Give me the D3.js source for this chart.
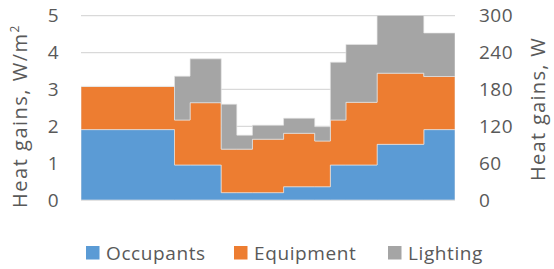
<!DOCTYPE html>
<html>
<head>
<meta charset="utf-8">
<script src="https://cdn.jsdelivr.net/npm/d3@7"></script>
<style>
  body { margin: 0; background: #fff; }
  svg { font-family: "Open Sans", sans-serif; }
</style>
</head>
<body>
<svg width="554" height="269"></svg>
<script>
// hour at which each step starts (last entry closes the day)
var hours = [0, 6, 7, 9, 10, 11, 13, 15, 16, 17, 19, 22, 24];
var occupants = [1.91, 0.95, 0.95, 0.2, 0.2, 0.2, 0.36, 0.36, 0.95, 0.95, 1.51, 1.91];
var equipment = [1.17, 1.22, 1.69, 1.18, 1.18, 1.45, 1.45, 1.24, 1.22, 1.70, 1.93, 1.44];
var lighting = [0, 1.19, 1.19, 1.22, 0.38, 0.38, 0.41, 0.39, 1.57, 1.57, 1.57, 1.18];
var seriesNames = ['Occupants', 'Equipment', 'Lighting'];
var seriesColors = ['#5b9bd5', '#ed7d31', '#a5a5a5'];
var leftTicks = [0, 1, 2, 3, 4, 5];
var rightTicks = [0, 60, 120, 180, 240, 300];

var margin = { left: 81, right: 99, top: 15.7, bottom: 69 };
var width = 554 - margin.left - margin.right;
var height = 269 - margin.top - margin.bottom;

var rows = hours.map(function (h, i) {
  var k = Math.min(i, occupants.length - 1);
  return { hour: h, Occupants: occupants[k], Equipment: equipment[k], Lighting: lighting[k] };
});

var svg = d3.select('svg');
var g = svg.append('g')
  .attr('transform', 'translate(' + margin.left + ',' + margin.top + ')');

var x = d3.scaleLinear().domain([0, 24]).range([0, width]);
var y = d3.scaleLinear().domain([0, 5]).range([height, 0]);
var y2 = d3.scaleLinear().domain([0, 300]).range([height, 0]);

// grid
g.selectAll('.grid')
  .data(leftTicks)
  .enter()
  .append('line')
  .attr('x1', 0)
  .attr('x2', width)
  .attr('y1', function (d) { return y(d); })
  .attr('y2', function (d) { return y(d); })
  .attr('stroke', '#d9d9d9')
  .attr('stroke-width', 1.3);

g.append('clipPath')
  .attr('id', 'plot')
  .append('rect')
  .attr('x', 0)
  .attr('y', 0)
  .attr('width', width)
  .attr('height', height);

var stacked = d3.stack().keys(seriesNames)(rows);

var area = d3.area()
  .curve(d3.curveStepAfter)
  .x(function (d) { return x(d.data.hour); })
  .y0(function (d) { return y(d[0]); })
  .y1(function (d) { return y(d[1]); });

g.append('g')
  .attr('clip-path', 'url(#plot)')
  .selectAll('path')
  .data(stacked)
  .enter()
  .append('path')
  .attr('d', area)
  .attr('fill', function (d, i) { return seriesColors[i]; })
  .attr('stroke', '#e6e6e6')
  .attr('stroke-opacity', 0.8)
  .attr('stroke-width', 0.8);

// axes
var leftAxis = d3.axisLeft(y).tickValues(leftTicks).tickFormat(d3.format('d')).tickSize(0).tickPadding(22);
var rightAxis = d3.axisRight(y2).tickValues(rightTicks).tickFormat(d3.format('d')).tickSize(0).tickPadding(24);

function styleAxis(sel) {
  sel.select('.domain').remove();
  sel.selectAll('text')
    .attr('fill', '#595959')
    .style('font-size', '19px')
    .style('letter-spacing', '0.5px')
    .style('font-family', '"Open Sans", sans-serif');
}

g.append('g').call(leftAxis).call(styleAxis);
g.append('g').attr('transform', 'translate(' + width + ',0)').call(rightAxis).call(styleAxis);

// axis titles
var leftTitle = svg.append('text')
  .attr('transform', 'translate(26.5,' + 116 + ') rotate(-90)')
  .attr('text-anchor', 'middle')
  .attr('fill', '#595959')
  .style('font-size', '20px')
  .style('letter-spacing', '1.5px');
leftTitle.append('tspan').text('Heat gains, W/m');
leftTitle.append('tspan').attr('dy', -8).style('font-size', '12px').text('2');

svg.append('text')
  .attr('transform', 'translate(545,' + 109 + ') rotate(-90)')
  .attr('text-anchor', 'middle')
  .attr('fill', '#595959')
  .style('font-size', '20px')
  .style('letter-spacing', '1.3px')
  .text('Heat gains, W');

// legend
var legendX = [86, 234, 388];
var legend = svg.selectAll('.legend')
  .data(seriesNames)
  .enter()
  .append('g')
  .attr('transform', function (d, i) { return 'translate(' + legendX[i] + ',246)'; });
legend.append('rect')
  .attr('width', 13.5)
  .attr('height', 13.5)
  .attr('fill', function (d, i) { return seriesColors[i]; });
legend.append('text')
  .attr('x', 20)
  .attr('y', 13.8)
  .attr('fill', '#595959')
  .style('font-size', '19px')
  .style('letter-spacing', '0.6px')
  .text(function (d) { return d; });
</script>
</body>
</html>
